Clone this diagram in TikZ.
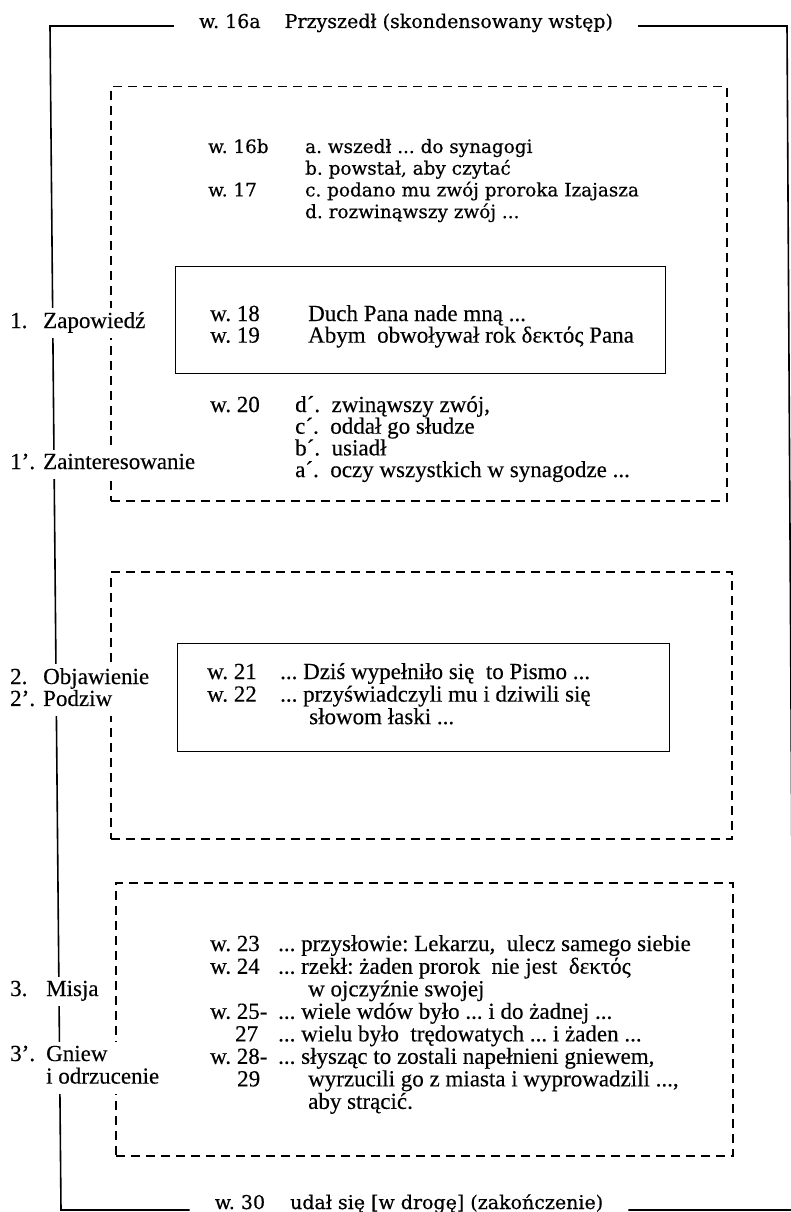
\documentclass[tikz,border=0pt]{standalone}
\usepackage{fontspec}
\setmainfont[FakeBold=0.3]{Liberation Serif}
\newfontfamily\schoolfont[FakeBold=0.5]{DejaVu Serif}
\usetikzlibrary{positioning}
\frenchspacing

\begin{document}
\begin{tikzpicture}[
    x=1pt, y=-1pt,
    % Stil für den äußeren Rahmen
    rahmen/.style={line width=1.6pt},
    % Stil für die gestrichelten Abschnitte
    abschnitt/.style={
      draw,
      line width=1.5pt,
      dash pattern=on 9pt off 6pt,
      anchor=north west
    },
    % Stil für die inneren Kästen
    kern/.style={
      draw,
      line width=1.4pt,
      anchor=north west
    },
    % Stil für Kopf- und Schlusszeile
    kopf/.style={
      font=\schoolfont\fontsize{19}{22}\selectfont,
      fill=white,
      inner xsep=25pt,
      inner ysep=0pt,
      anchor=base
    },
    % Stil für die Verse
    vers/.style={
      font=\fontsize{23}{22}\selectfont,
      inner sep=0pt,
      anchor=base west
    },
    % Stil für die Beschriftungen links
    marke/.style={
      font=\fontsize{23}{21}\selectfont,
      fill=white,
      inner xsep=2pt,
      inner ysep=4pt,
      anchor=base west
    }
  ]

  \useasboundingbox (0,0) rectangle (791,1212);

  % --- RAHMEN ---
  \coordinate (lo) at (50,26);
  \coordinate (ro) at (787,26);
  \coordinate (lu) at (61,1210);
  \coordinate (ru) at (794,1210);

  \node[kopf] (titel) at (406,28) {w. 16a\hspace{24pt}Przyszedł (skondensowany wstęp)};
  \node[kopf] (schluss) at (409,1209) {w. 30\hspace{25pt}udał się [w drogę] (zakończenie)};

  \draw[rahmen] (titel.west |- lo) -- (lo) -- (lu) -- (schluss.west |- lu);
  \draw[rahmen] (titel.east |- ro) -- (ro) -- (ru) -- (schluss.east |- ru);

  % --- ABSCHNITTE ---
  \node[abschnitt, minimum width=616pt, minimum height=414pt] (teil1) at (110,86) {};
  \node[abschnitt, minimum width=621pt, minimum height=267pt] (teil2) at (110,571) {};
  \node[abschnitt, minimum width=617pt, minimum height=273pt] (teil3) at (115,882) {};

  % Innere Kästen
  \node[kern, minimum width=490pt, minimum height=107pt] (kern1) at (175,266) {};
  \node[kern, minimum width=492pt, minimum height=108pt] (kern2) at (177,643) {};

  % --- TEXTE ---
  % Abschnitt 1
  \node[vers, font=\schoolfont\fontsize{18.4}{21.7}\selectfont] (v16) at (208,153) {%
    \begin{tabular}[t]{@{}p{97pt}@{}l@{}}
      w.\ 16b & a. wszedł ... do synagogi \\
              & b. powstał, aby czytać \\
      w.\ 17  & c. podano mu zwój proroka Izajasza \\
              & d. rozwinąwszy zwój ...
    \end{tabular}};
  \node[vers, font=\fontsize{23}{18}\selectfont] (v18) at (210,321) {%
    \begin{tabular}[t]{@{}p{98pt}@{}l@{}}
      w. 18 & Duch Pana nade mną ... \\
      w. 19 & Abym\ \ obwoływał rok δεκτός Pana
    \end{tabular}};
  \node[vers, font=\fontsize{23}{19}\selectfont] (v20) at (210,412) {%
    \begin{tabular}[t]{@{}p{85pt}@{}l@{}}
      w. 20 & d´.\ \ zwinąwszy zwój, \\
            & c´.\ \ oddał go słudze \\
            & b´.\ \ usiadł \\
            & a´.\ \ oczy wszystkich w synagodze ...
    \end{tabular}};

  % Abschnitt 2
  \node[vers] (v21) at (207,679) {%
    \begin{tabular}[t]{@{}p{73pt}@{}l@{}}
      w. 21 & ... Dziś wypełniło się\ \ to Pismo ... \\
      w. 22 & ... przyświadczyli mu i dziwili się \\
            & \hspace{29pt}słowom łaski ...
    \end{tabular}};

  % Abschnitt 3
  \node[vers, font=\fontsize{23}{21.8}\selectfont] (v23) at (210,951) {%
    \begin{tabular}[t]{@{}p{68pt}@{}l@{}}
      w. 23 & ... przysłowie: Lekarzu,\ \ ulecz samego siebie \\
      w. 24 & ... rzekł: żaden prorok\ \ nie jest\ \ δεκτός \\
            & \hspace{30pt}w ojczyźnie swojej \\
      w. 25- & ... wiele wdów było ... i do żadnej ... \\
      \hspace{25pt}27 & ... wielu było\ \ trędowatych ... i żaden ... \\
      w. 28- & ... słysząc to zostali napełnieni gniewem, \\
      \hspace{27pt}29 & \hspace{30pt}wyrzucili go z miasta i wyprowadzili ..., \\
             & \hspace{30pt}aby strącić.
    \end{tabular}};

  % --- BESCHRIFTUNGEN LINKS ---
  \node[marke] (zapowiedz) at (8,328) {%
    \begin{tabular}[t]{@{}p{33pt}@{}l@{}} 1. & Zapowiedź \end{tabular}};
  \node[marke] (zaint) at (8,469) {%
    \begin{tabular}[t]{@{}p{33pt}@{}l@{}} 1’. & Zainteresowanie \end{tabular}};
  \node[marke, font=\fontsize{23}{20}\selectfont] (objaw) at (8,684) {%
    \begin{tabular}[t]{@{}p{33pt}@{}l@{}} 2. & Objawienie \\ 2’. & Podziw \end{tabular}};
  \node[marke] (misja) at (8,996) {%
    \begin{tabular}[t]{@{}p{36pt}@{}l@{}} 3. & Misja \end{tabular}};
  \node[marke, font=\fontsize{23}{22}\selectfont] (gniew) at (8,1061) {%
    \begin{tabular}[t]{@{}p{36pt}@{}l@{}} 3’. & Gniew \\ & i odrzucenie \end{tabular}};

\end{tikzpicture}
\end{document}
